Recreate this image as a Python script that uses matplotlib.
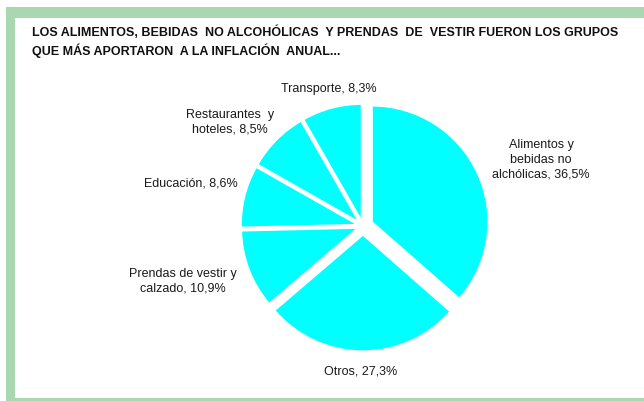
import matplotlib
matplotlib.use("Agg")
import matplotlib.pyplot as plt
from matplotlib.patches import Rectangle
from matplotlib import font_manager

categories = ["Alimentos y\nbebidas no\nalchólicas", "Otros", "Prendas de vestir y\ncalzado",
              "Educación", "Restaurantes  y\nhoteles", "Transporte"]
values = [36.5, 27.3, 10.9, 8.6, 8.5, 8.3]
value_labels = ["36,5%", "27,3%", "10,9%", "8,6%", "8,5%", "8,3%"]
title = ("LOS ALIMENTOS, BEBIDAS  NO ALCOHÓLICAS  Y PRENDAS  DE  VESTIR FUERON LOS GRUPOS\n"
         "QUE MÁS APORTARON  A LA INFLACIÓN  ANUAL...")

names = {f.name for f in font_manager.fontManager.ttflist}
fam = ["Liberation Sans Narrow", "Liberation Sans", "DejaVu Sans"] if "Liberation Sans Narrow" in names else ["Liberation Sans", "DejaVu Sans"]

W, H = 644, 401
fig = plt.figure(figsize=(W / 100, H / 100), dpi=100)
ax = fig.add_axes([0, 0, 1, 1])

green = "#A8D7B0"
# frame
ax.add_patch(Rectangle((6, H - 18), W - 6, 11, color=green, lw=0))
ax.add_patch(Rectangle((6, 0), 9, H - 7, color=green, lw=0))
ax.add_patch(Rectangle((6, 0), W - 6, 3, color=green, lw=0))

cx, cy, r = 363, H - 226, 116
# explode given in data units (pixels) since radius is in pixels
explode = [10, 9, 6, 6, 6, 6]
ax.pie(values, explode=explode, startangle=90, counterclock=False, colors=["#00FFFF"] * 6,
       center=(cx, cy), radius=r, wedgeprops=dict(edgecolor="white", linewidth=1.0),
       frame=True)
ax.set_xlim(0, W)
ax.set_ylim(0, H)
ax.set_aspect("equal")
ax.axis("off")

label_pos = [(541, H - 160), (361, H - 371), (183, H - 281), (191, H - 184), (230, H - 122), (329, H - 89)]
for cat, vl, (x, y) in zip(categories, value_labels, label_pos):
    ax.text(x, y, f"{cat}, {vl}", ha="center", va="center", fontsize=9, family=fam,
            color="#1a1a1a", linespacing=1.3)

ax.text(32, H - 42, title, ha="left", va="center", fontsize=9, family=fam, weight="bold",
        color="#111111", linespacing=1.35)

fig.savefig("out.png", dpi=100)
